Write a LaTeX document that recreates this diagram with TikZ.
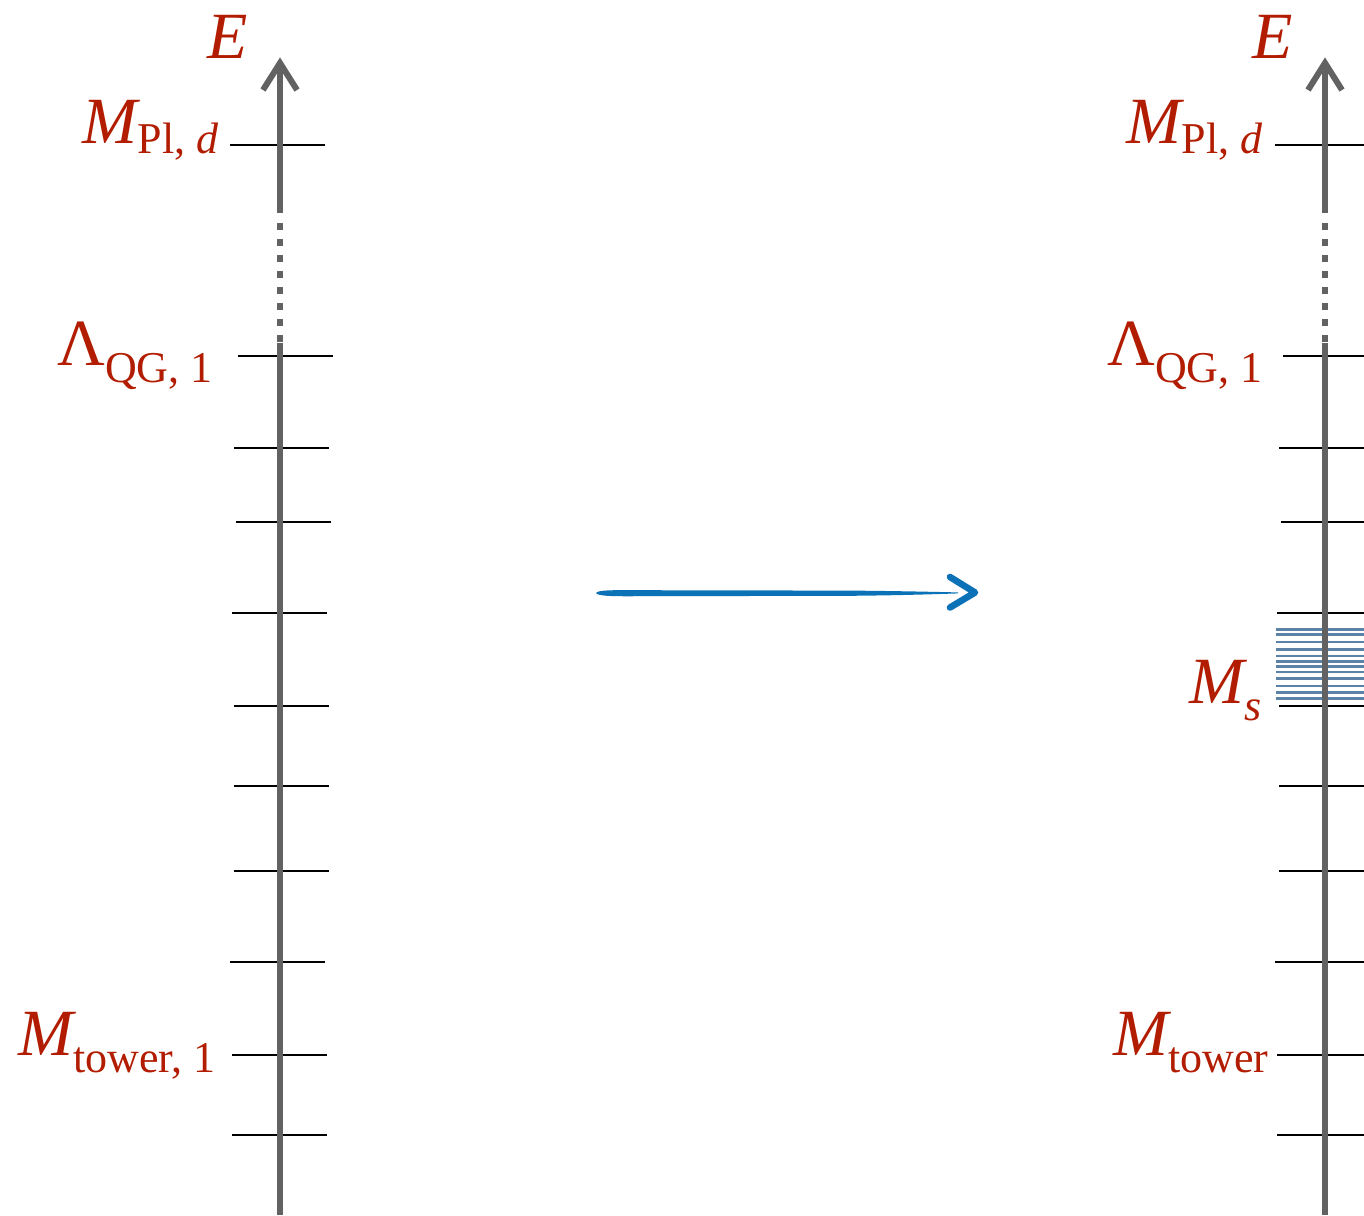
\documentclass[tikz,border=0pt]{standalone}
\usepackage{fontspec}
\setmainfont{Liberation Serif}
\definecolor{labred}{RGB}{178,28,0}
\definecolor{axgray}{RGB}{98,98,98}
\definecolor{arrblue}{RGB}{12,114,184}
\definecolor{stblue}{RGB}{92,130,168}
\newcommand{\lsub}[2]{\raisebox{-#1}{\fontsize{22}{25}\selectfont #2}}
\begin{document}
\begin{tikzpicture}[x=0.5pt,y=-0.5pt,
  axis/.style={line width=3pt, color=axgray},
  tickline/.style={line width=1pt, black},
  bluetick/.style={line width=1.3pt, stblue},
  lab/.style={text=labred, inner sep=0pt, font=\fontsize{33}{38}\selectfont}]
\useasboundingbox (0,0) rectangle (1364,1215);
\clip (0,0) rectangle (1364,1215);
% ticks
\foreach \y/\s in {145/230, 356/238, 448/234, 522/236, 613/232, 706/234, 786/234, 871/234, 962/230, 1055/232, 1135/232}{
  \draw[tickline] (\s,\y) -- ++(95,0);
  \draw[tickline] (\s+1045,\y) -- ++(95,0);
}
% blue levels
\foreach \y in {629.3,634.7,642,649.3,656,661.3,666.7,672,678.7,686,692.7,698.7}{
  \draw[bluetick] (1276,\y) -- (1370,\y);
}
% axes
\foreach \x in {280,1325}{
  \draw[axis] (\x,1215) -- (\x,343);
  \draw[axis, dash pattern=on 3.5pt off 4.5pt] (\x,223) -- (\x,343);
  \draw[axis] (\x,213) -- (\x,62);
  \draw[axis, line join=miter] (\x-17,90) -- (\x,63) -- (\x+17,90);
}
% blue arrow
\fill[arrblue] (596,593) .. controls (598,590) and (612,590) .. (640,590.2)
  -- (850,590.6) .. controls (900,591) and (940,592) .. (958,592.4)
  -- (958,593.4) .. controls (940,594) and (900,595.4) .. (850,595.8)
  -- (640,596.2) .. controls (612,596.4) and (598,596.2) .. (596,593) -- cycle;
\draw[arrblue, line width=3.3pt, line cap=round, line join=round] (950,577) -- (975,592.5) -- (950,607.5);
% labels left
\node[lab, anchor=base] (E1) at (228,58) {\itshape E};
\node[lab, anchor=base east] (mpl1) at (219,143) {{\itshape M}\lsub{5pt}{Pl, \itshape d}};
\node[lab, anchor=base east] (lqg1) at (213,365) {Λ\lsub{8.5pt}{QG, 1}};
\node[lab, anchor=base east] (mt1) at (216,1055) {{\itshape M}\lsub{8.5pt}{tower, 1}};
% labels right
\node[lab, anchor=base] (E2) at (1273,58) {\itshape E};
\node[lab, anchor=base east] (mpl2) at (1263,143) {{\itshape M}\lsub{5pt}{Pl, \itshape d}};
\node[lab, anchor=base east] (lqg2) at (1263,365) {Λ\lsub{8.5pt}{QG, 1}};
\node[lab, anchor=base east] (ms) at (1262,703) {{\itshape M}\lsub{8.5pt}{\itshape s}};
\node[lab, anchor=base east] (mt2) at (1269,1055) {{\itshape M}\lsub{8.5pt}{tower}};
\end{tikzpicture}
\end{document}
